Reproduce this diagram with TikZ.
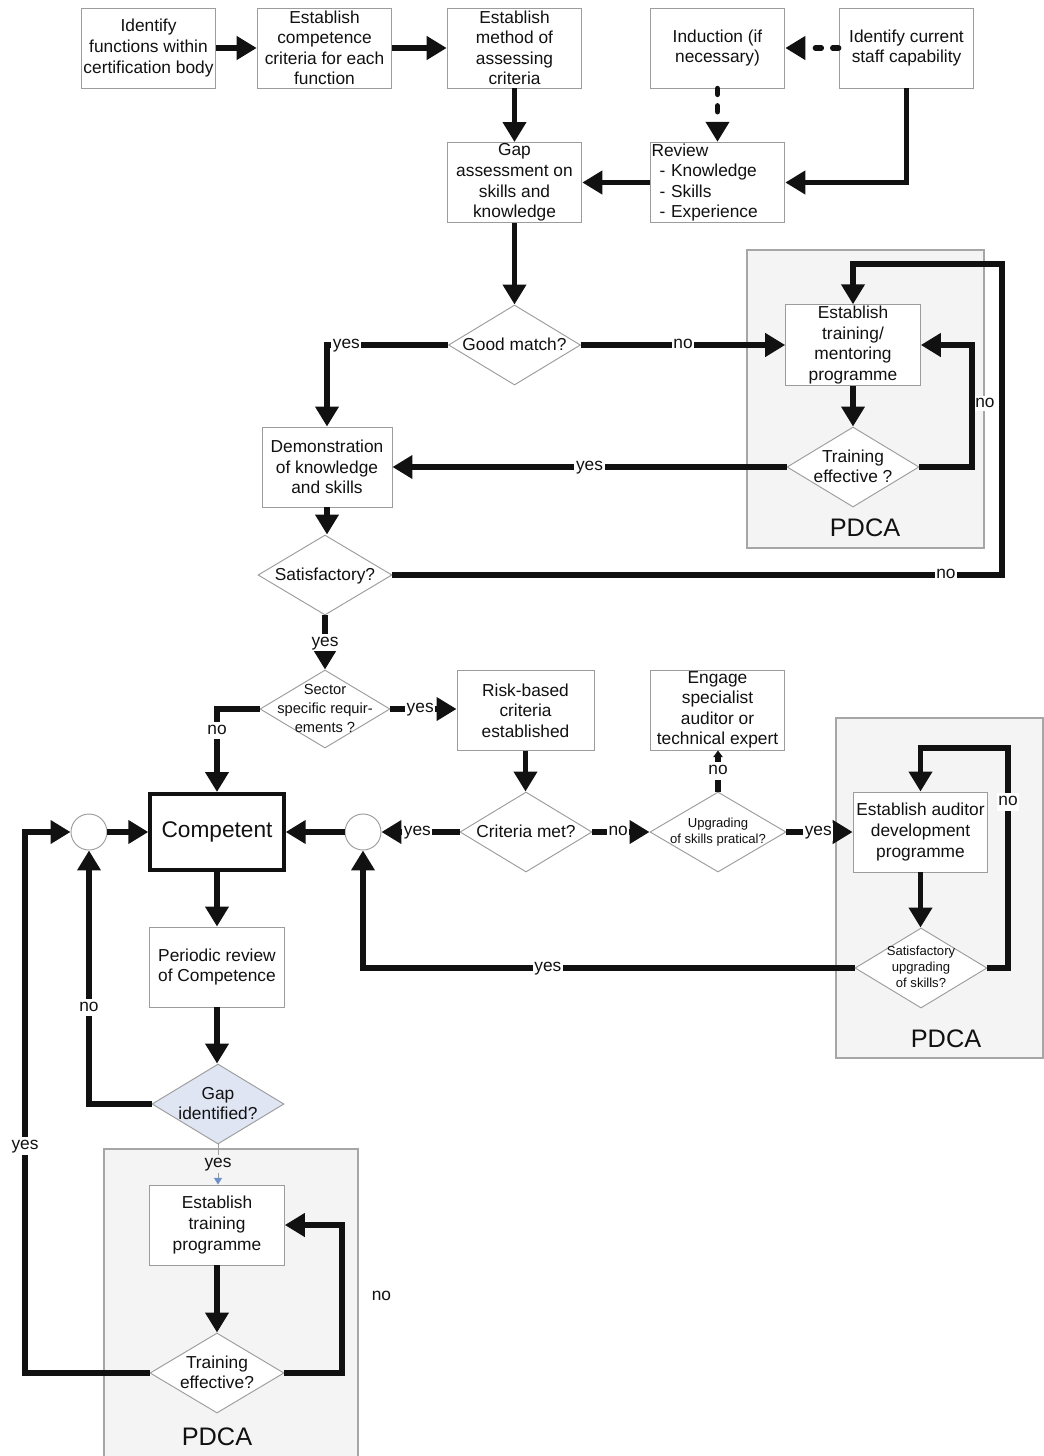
\documentclass[tikz,border=0pt]{standalone}
\usepackage{fontspec}
\setmainfont{Liberation Sans}
\usetikzlibrary{arrows.meta,shapes.geometric,calc}
\definecolor{bgray}{HTML}{9C9C9C}
\definecolor{pfill}{HTML}{F4F4F4}
\definecolor{pline}{HTML}{A6A6A6}
\definecolor{ink}{HTML}{111111}
\definecolor{gapblue}{HTML}{DFE5F3}
\definecolor{tipblue}{HTML}{6F8FC8}
\newcommand{\dtxt}[1]{\makebox[0pt]{\smash{\raisebox{-.3em}{\begin{tabular}{@{}c@{}}#1\end{tabular}}}}}
\begin{document}
\begin{tikzpicture}[x=0.75pt,y=-0.75pt,
  fs/.style={font=\fontsize{13}{15.4}\selectfont},
  fsmall/.style={font=\fontsize{11}{14.3}\selectfont},
  ftiny/.style={font=\fontsize{9.8}{12}\selectfont},
  box/.style={draw=bgray, line width=0.7pt, fill=white, minimum width=101pt, minimum height=60pt, inner sep=1pt, align=center, fs, text=ink},
  dia/.style={diamond, draw=bgray, line width=0.7pt, fill=white, minimum width=99pt, minimum height=60pt, inner sep=0pt, fs, text=ink},
  circ/.style={circle, draw=bgray, line width=0.7pt, fill=white, minimum size=27pt, inner sep=0pt},
  pdca/.style={draw=pline, line width=1pt, fill=pfill, inner sep=0pt},
  pdcat/.style={font=\fontsize{19}{22}\selectfont, text=ink},
  arr/.style={draw=ink, line width=4pt, -{Triangle[length=15pt,width=17pt]}},
  darr/.style={arr, dash pattern=on 4.5pt off 8.5pt, line cap=round},
  lbl/.style={fill=white, inner sep=1.2pt, fs, text=ink, text height=1.55ex, text depth=0.5ex},
]
\useasboundingbox (0,0) rectangle (1044,1456);
\fill[white] (0,0) rectangle (1044,1456);

% PDCA frames
\node[pdca, minimum width=177.75pt, minimum height=223.5pt] (P1) at (865.5,399) {};
\node[pdca, minimum width=155.25pt, minimum height=255pt] (P2) at (939.5,888) {};
\node[pdca, minimum width=190.5pt, minimum height=234.75pt] (P3) at (231,1305.5) {};
\node[pdcat] (P1t) at (865,528) {PDCA};
\node[pdcat] (P2t) at (946,1039) {PDCA};
\node[pdcat] (P3t) at (217,1437) {PDCA};

% top row
\node[box] (A) at (148.5,48) {Identify\\functions within\\certification body};
\node[box] (B) at (324.5,48) {Establish\\competence\\criteria for each\\function};
\node[box] (C) at (514.5,48) {Establish\\method of\\assessing\\criteria};
\node[box] (D) at (717.5,48) {Induction (if\\necessary)};
\node[box] (E) at (906.5,48) {Identify current\\staff capability};
\node[box] (F) at (514.5,182.5) {Gap\\assessment on\\skills and\\knowledge};
\node[box, align=left, text width=99pt] (G) at (717.5,182.5) {Review\\\hspace*{6pt}- Knowledge\\\hspace*{6pt}- Skills\\\hspace*{6pt}- Experience};

% middle
\node[dia] (GM) at (514.5,345) {\dtxt{Good match?}};
\node[box] (TM) at (853,345) {Establish\\training/\\mentoring\\programme};
\node[dia] (TE) at (853,467) {\dtxt{Training\\effective ?}};
\node[box, minimum width=97.5pt] (DK) at (327,467) {Demonstration\\of knowledge\\and skills};
\node[dia, minimum width=100.5pt] (SAT) at (325,575) {\dtxt{Satisfactory?}};
\node[dia, fsmall, minimum width=97.5pt, minimum height=58.5pt] (SEC) at (325,709) {\dtxt{Sector\\specific requir-\\ements ?}};
\node[box, minimum width=102.75pt] (RB) at (525.5,710.5) {Risk-based\\criteria\\established};
\node[dia] (CM) at (526,832) {\dtxt{Criteria met?}};
\node[dia, ftiny, minimum width=102pt] (UP) at (718,832) {\dtxt{Upgrading\\of skills pratical?}};
\node[box] (EN) at (717.5,710) {Engage\\specialist\\auditor or\\technical expert};
\node[box] (AD) at (920.5,832) {Establish auditor\\development\\programme};
\node[dia, ftiny] (SU) at (921,968) {\dtxt{Satisfactory\\upgrading\\of skills?}};
\node[circ] (C2) at (363,832) {};
\node[box, draw=ink, line width=3pt, minimum width=100pt, minimum height=57pt, font=\fontsize{17}{20}\selectfont] (CP) at (217,832) {Competent};
\node[circ] (C1) at (89,832) {};
\node[box] (PR) at (217,967) {Periodic review\\of Competence};
\node[dia, fill=gapblue] (GI) at (218,1104) {\dtxt{Gap\\identified?}};
\node[box] (ET) at (217,1225) {Establish\\training\\programme};
\node[dia, minimum width=100.5pt] (TE2) at (217,1373) {\dtxt{Training\\effective?}};

% corner coordinates
\coordinate (k1) at (972,345);
\coordinate (k2) at (1002,264);
\coordinate (k3) at (1008,748);
\coordinate (k4) at (342,1225);
\coordinate (k5) at (25,832);

% connectors
\draw[arr] (A) -- (B);
\draw[arr] (B) -- (C);
\draw[arr] (C) -- (F);
\draw[darr] (E) -- (D);
\draw[darr] (D) -- (G);
\draw[arr] (E.south) |- (G.east);
\draw[arr] (G) -- (F);
\draw[arr] (F) -- (GM);
\draw[arr] (GM.east) -- node[lbl, pos=0.5]{no} (TM.west);
\draw[arr] (GM.west) -| node[lbl, pos=0.42]{yes} (DK.north);
\draw[arr] (TE.west) -- node[lbl, pos=0.5]{yes} (DK.east);
\draw[arr] (TE.east) -| node[lbl, pos=0.76, right, inner sep=0.5pt]{no} (k1) -- (TM.east);
\draw[arr] (TM) -- (TE);
\draw[arr] (DK.south) -- (DK.south |- SAT.north);
\draw[arr] (SAT.east) -| node[lbl, pos=0.454]{no} (k2) -| (TM.north);
\draw[arr] (SAT.south) -- node[lbl, pos=0.5]{yes} (SEC.north);
\draw[arr] (SEC.east) -- node[lbl, pos=0.45]{yes} (RB.west |- SEC.east);
\draw[arr] (SEC.west) -| node[lbl, pos=0.63]{no} (CP.north);
\draw[arr] (RB.south) -- (RB.south |- CM.north);
\draw[arr] (CM.west) -- node[lbl, pos=0.54]{yes} (C2.east);
\draw[arr] (CM.east) -- node[lbl, pos=0.45]{no} (UP.west);
\draw[draw=ink, line width=4pt, -{Triangle[length=5pt,width=7pt]}] (UP.north) -- node[lbl, pos=0.5]{no} (UP.north |- EN.south);
\draw[arr] (UP.east) -- node[lbl, pos=0.48]{yes} (AD.west);
\draw[arr] (AD.south) -- (AD.south |- SU.north);
\draw[arr] (SU.east) -| node[lbl, pos=0.877]{no} (k3) -| (AD.north);
\draw[arr] (SU.west) -| node[lbl, pos=0.312]{yes} (C2.south);
\draw[arr] (C2.west) -- (CP.east);
\draw[arr] (C1.east) -- (CP.west);
\draw[arr] (CP.south) -- (CP.south |- PR.north);
\draw[arr] (PR.south) -- (PR.south |- GI.north);
\draw[arr] (GI.west) -| node[lbl, pos=0.69]{no} (C1.south);
\draw[draw=bgray, line width=0.7pt, -{Triangle[length=5pt,width=6pt,color=tipblue]}] (GI.south) -- node[lbl, fill=pfill, pos=0.49]{yes} (GI.south |- ET.north);
\draw[arr] (ET.south) -- (ET.south |- TE2.north);
\draw[arr] (TE2.east) -| node[fs, text=ink, pos=0.76, right=17pt]{no} (k4) -- (ET.east);
\draw[arr] (TE2.west) -| node[lbl, pos=0.71]{yes} (k5) -- (C1.west);
\end{tikzpicture}
\end{document}
